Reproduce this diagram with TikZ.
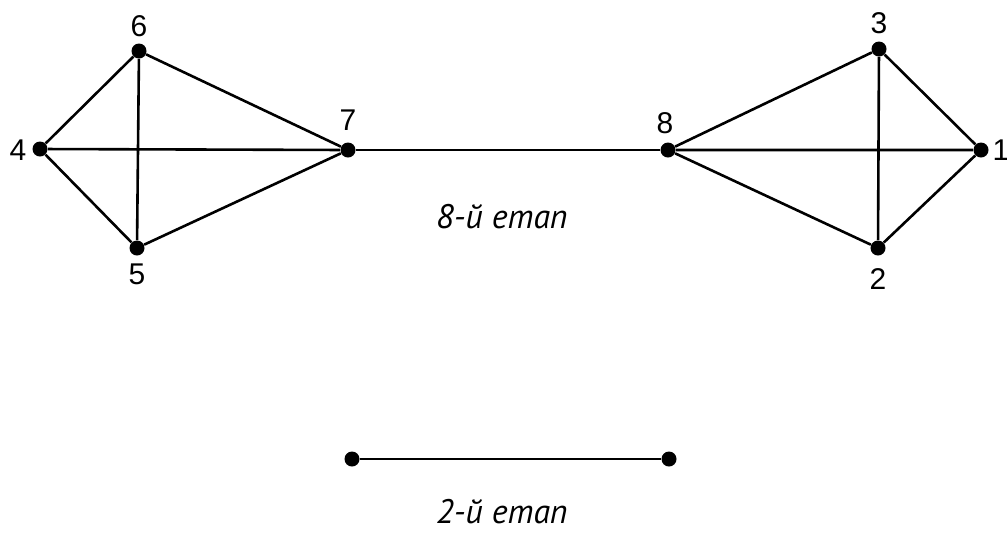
\documentclass[tikz,border=0pt]{standalone}
\usepackage{fontspec}
\setmainfont{Liberation Sans}
\newfontfamily\capfont{PT Sans}
\begin{document}
\begin{tikzpicture}[x=0.5pt,y=-0.5pt,
  vtx/.style={circle,fill=black,inner sep=0pt,minimum size=7.5pt},
  edge/.style={line width=1.3pt},
  num/.style={font=\fontsize{15}{17}\selectfont,inner sep=0pt},
  stagecap/.style={font=\capfont\itshape\fontsize{17}{20}\selectfont,inner sep=0pt}]
\useasboundingbox (0,0) rectangle (1007,532);
\node[vtx] (v6) at (139,51) {};
\node[vtx] (v4) at (40,149) {};
\node[vtx] (v5) at (137,248) {};
\node[vtx] (v7) at (348,150) {};
\node[vtx] (v8) at (668,150) {};
\node[vtx] (v3) at (879,49) {};
\node[vtx] (v1) at (981,150) {};
\node[vtx] (v2) at (878,248) {};
\node[vtx] (b1) at (352,459) {};
\node[vtx] (b2) at (669,459) {};
\draw[edge] (v4)--(v6) (v4)--(v5) (v4)--(v7) (v6)--(v5) (v6)--(v7) (v5)--(v7);
\draw[edge] (v7)--(v8);
\draw[edge] (v8)--(v3) (v8)--(v2) (v8)--(v1) (v3)--(v2) (v3)--(v1) (v2)--(v1);
\draw[edge] (b1)--(b2);
\node[num] (l6) at (139,26) {6};
\node[num] (l4) at (18,150) {4};
\node[num] (l5) at (137,274) {5};
\node[num] (l7) at (348,120) {7};
\node[num] (l8) at (665,123) {8};
\node[num] (l3) at (879,23) {3};
\node[num] (l1) at (1001,150) {1};
\node[num] (l2) at (878,279) {2};
\node[stagecap] (c8) at (502,217) {8-й етап};
\node[stagecap] (c2) at (502,512) {2-й етап};
\end{tikzpicture}
\end{document}
